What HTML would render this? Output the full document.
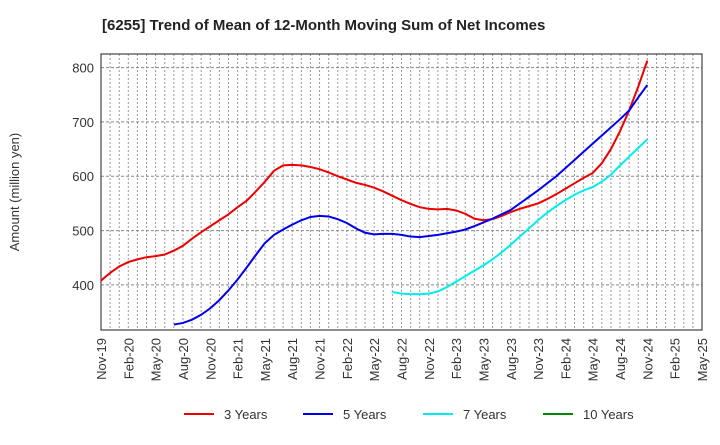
<!DOCTYPE html>
<html><head><meta charset="utf-8"><style>
body{margin:0;background:#fff;font-family:"Liberation Sans",sans-serif}
</style></head><body>
<svg width="720" height="440" xmlns="http://www.w3.org/2000/svg" font-family="Liberation Sans, sans-serif">
<text x="102" y="30" font-size="15" font-weight="bold" fill="#222">[6255]  Trend of Mean of 12-Month Moving Sum of Net Incomes</text>
<text transform="translate(19,192) rotate(-90)" text-anchor="middle" font-size="13" fill="#333">Amount (million yen)</text>
<g id="grid"></g><g id="axes"></g><g id="series"></g><g id="legend"></g>
</svg>
<script>
const xLabels=["Nov-19","Feb-20","May-20","Aug-20","Nov-20","Feb-21","May-21","Aug-21","Nov-21","Feb-22","May-22","Aug-22","Nov-22","Feb-23","May-23","Aug-23","Nov-23","Feb-24","May-24","Aug-24","Nov-24","Feb-25","May-25"];
const yTicks=[400,500,600,700,800];
const s3Start=0;
const s3=[408,422,434,442,447,451,453,456,463,472,485,497,508,519,530,543,555,572,590,610,620,621,620,617,613,607,600,594,588,584,579,572,564,556,549,543,540,539,540,537,531,522,519,521,527,534,540,545,550,558,567,577,587,597,606,624,650,683,721,765,813];
const s5Start=8;
const s5=[327,330,336,345,357,372,390,410,432,455,477,492,502,511,519,525,527,526,521,514,504,496,493,494,494,492,489,488,490,492,495,498,502,508,515,522,530,538,550,562,574,587,600,615,630,645,660,675,690,705,721,745,768];
const s7Start=32;
const s7=[387,384,383,383,384,388,396,406,416,426,436,447,460,474,489,504,519,533,545,556,566,574,580,590,603,620,636,652,668];
const s10=[];
const L=101,R=702,T=54,B=330,mMax=66,yMin=317,yMax=825;
const NS="http://www.w3.org/2000/svg";
const X=m=>L+(m/mMax)*(R-L);
const Y=v=>B-(v-yMin)/(yMax-yMin)*(B-T);
function mk(tag,attrs,parent){const e=document.createElementNS(NS,tag);for(const k in attrs)e.setAttribute(k,attrs[k]);parent.appendChild(e);return e;}
const grid=document.getElementById('grid'),axes=document.getElementById('axes'),ser=document.getElementById('series'),leg=document.getElementById('legend');
for(let m=1;m<mMax;m++){const g=mk('line',{x1:X(m),x2:X(m),y1:T,y2:B,stroke:'#999','stroke-width':1,'stroke-dasharray':'2,2'},grid);

}
yTicks.forEach(v=>{const g=mk('line',{x1:L,x2:R,y1:Y(v),y2:Y(v),stroke:'#888','stroke-width':1,'stroke-dasharray':'3,2'},grid);


const t=mk('text',{x:L-7,y:Y(v)+5,'text-anchor':'end','font-size':13,fill:'#333'},axes);t.textContent=v;

});
const fr=mk('rect',{x:L,y:T,width:R-L,height:B-T,fill:'none',stroke:'#444','stroke-width':1.2},axes);


xLabels.forEach((lb,i)=>{const x=X(i*3);const t=mk('text',{transform:`translate(${x+5},${B+8}) rotate(-90)`,'text-anchor':'end','font-size':13,fill:'#333'},axes);t.textContent=lb;

});
function line(data,start,color,name){if(!data.length)return;const p=mk('polyline',{points:data.map((v,i)=>X(start+i)+','+Y(v)).join(' '),fill:'none',stroke:color,'stroke-width':2},ser);

}
line(s3,s3Start,'#ee0000','series-3-years');
line(s5,s5Start,'#0000ee','series-5-years');
line(s7,s7Start,'#00eeee','series-7-years');
line(s10,0,'#008800','series-10-years');
[['3 Years','#ee0000',184],['5 Years','#0000ee',303],['7 Years','#00eeee',423],['10 Years','#008800',543]].forEach(([n,c,x])=>{
const g=mk('g',{},leg);


mk('line',{x1:x,x2:x+30,y1:414,y2:414,stroke:c,'stroke-width':2},g);
const t=mk('text',{x:x+40,y:419,'font-size':13,fill:'#333'},g);t.textContent=n;});
</script>
</body></html>
